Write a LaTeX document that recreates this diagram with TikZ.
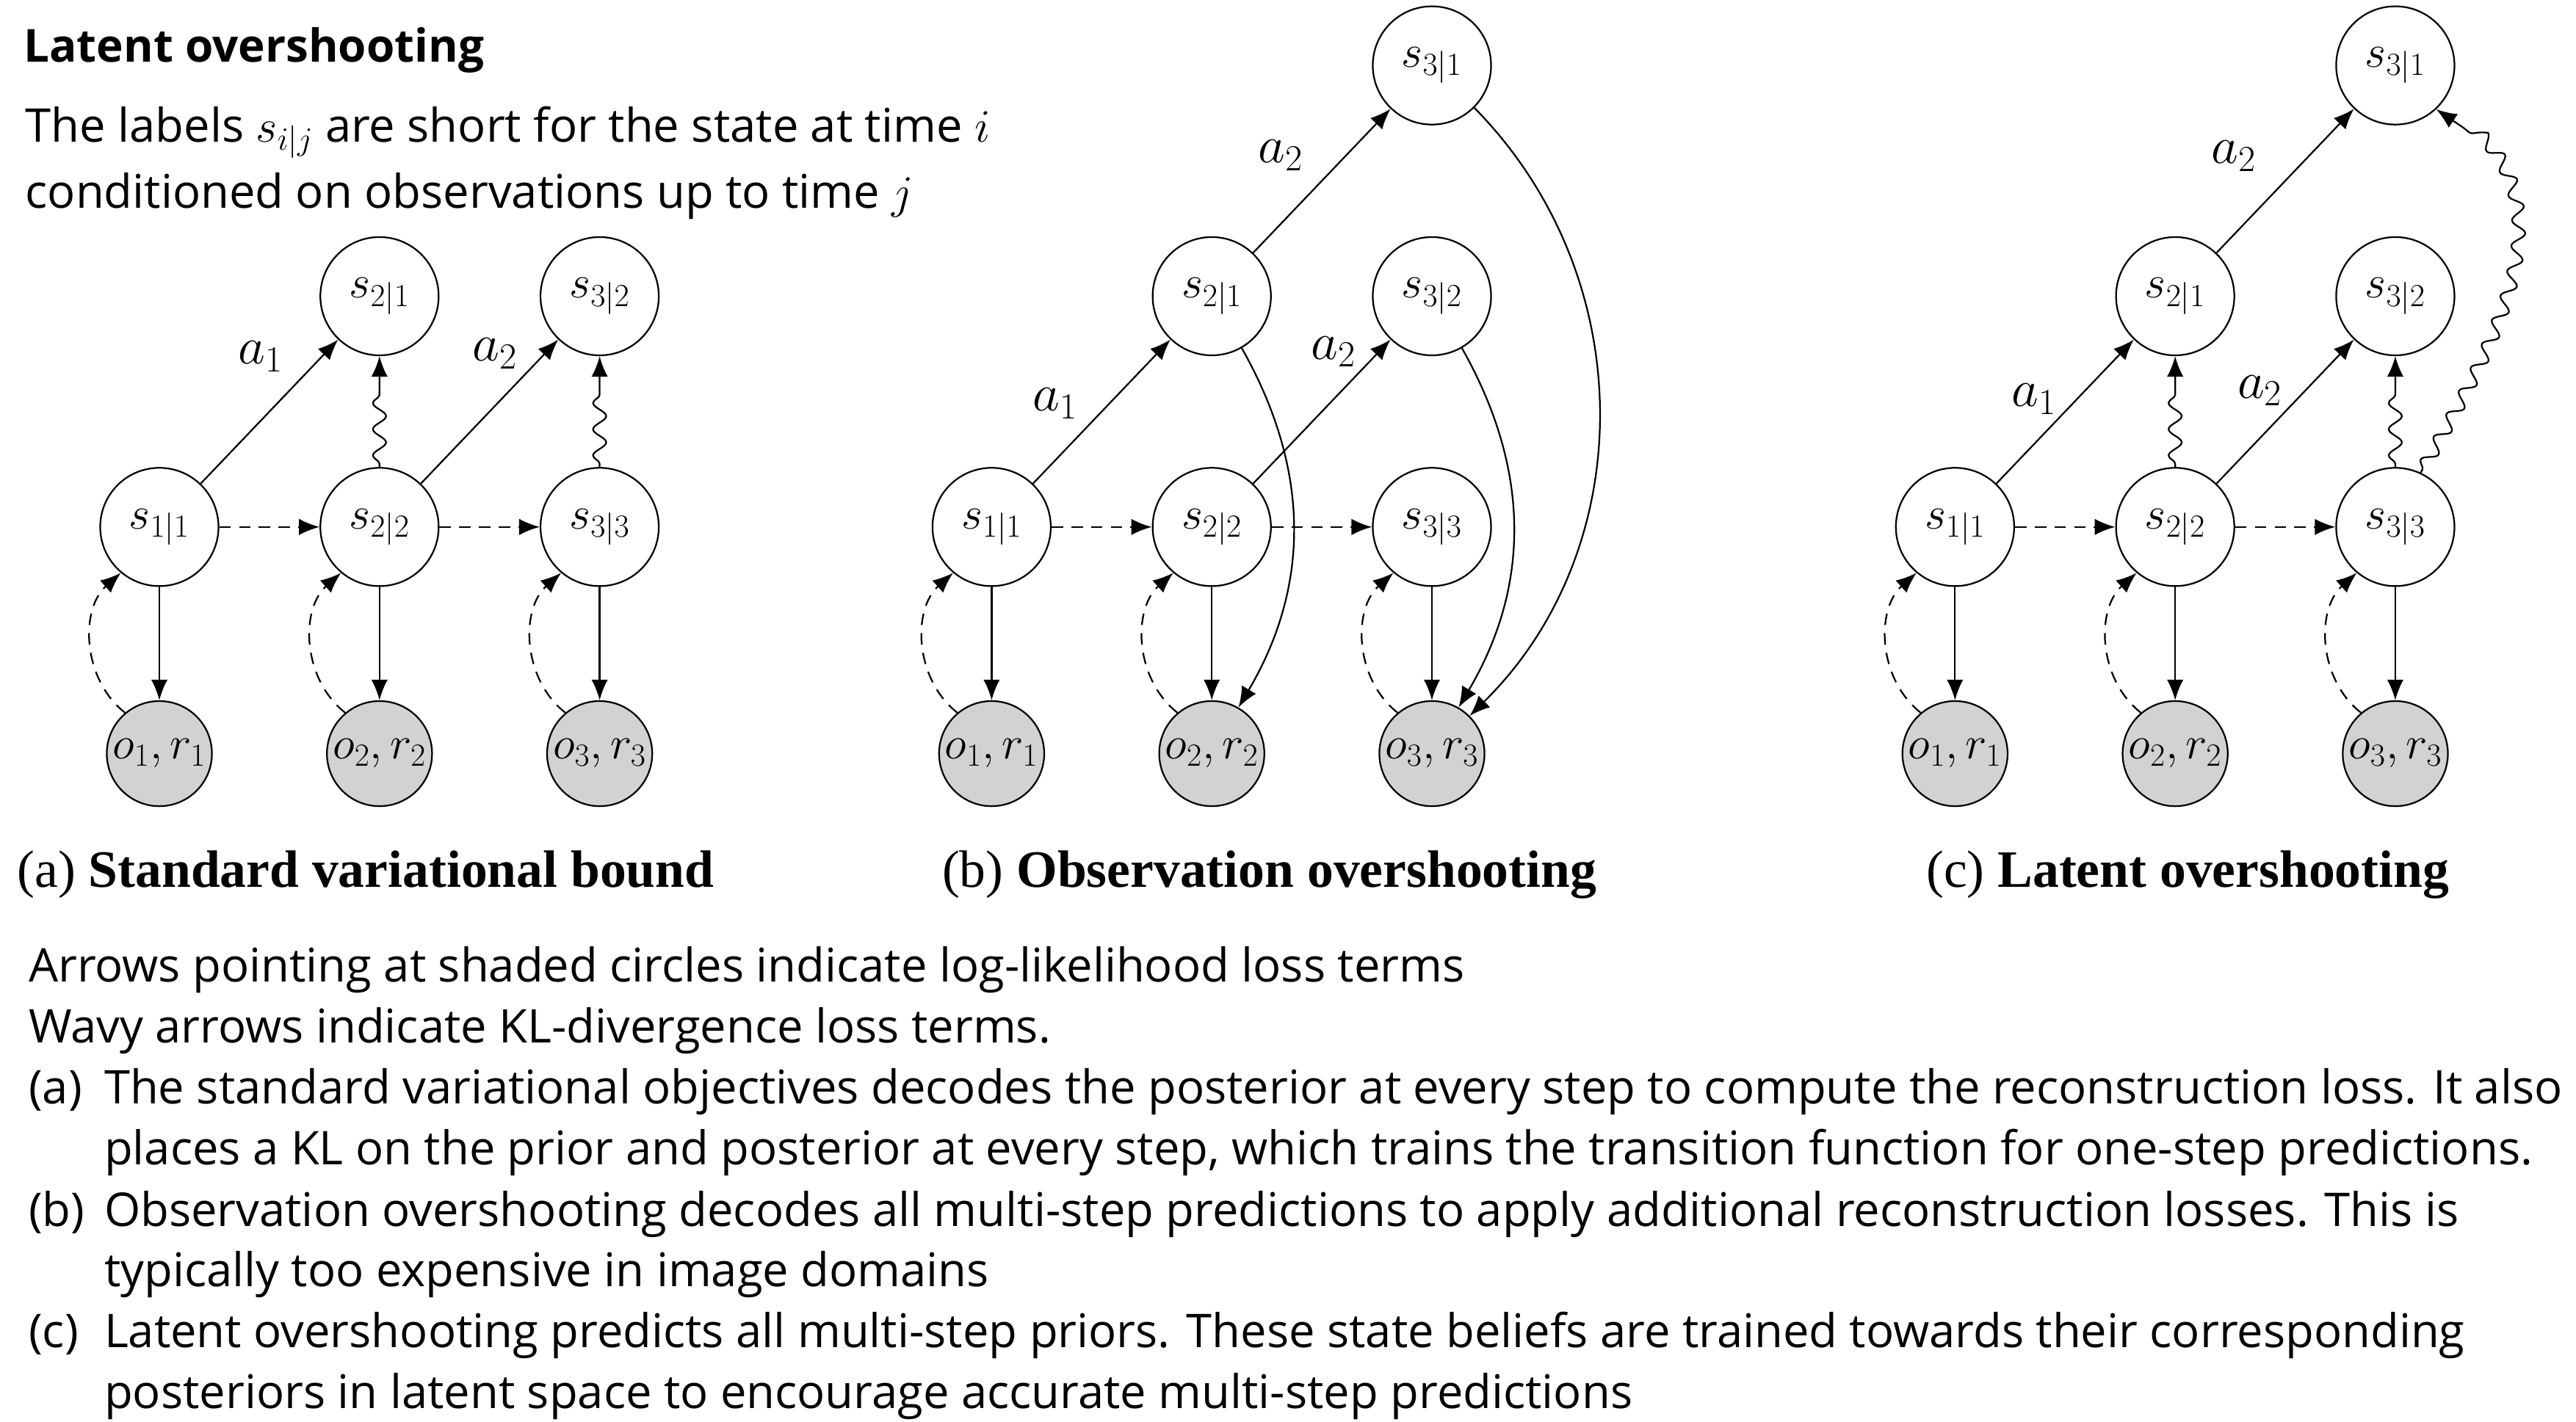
\RequirePackage{fix-cm}
\documentclass[tikz,border=0pt]{standalone}
\usepackage{fontspec}
\newfontfamily\uifont{Open Sans}
\newfontfamily\capfont{Liberation Serif}
\usepackage{tikz}
\usetikzlibrary{positioning}
\usetikzlibrary{arrows.meta,automata}
\usetikzlibrary{decorations.pathmorphing}

\tikzset{
  obs/.style={state,fill=gray!35,minimum size=64pt},
  kl/.style={decorate,decoration={snake,amplitude=4pt,segment length=16pt,
             pre length=2pt,post length=20pt}},
  inf/.style={dash pattern=on 7pt off 5pt},
  lbl/.style={font=\fontsize{32}{32}\selectfont,inner sep=0pt},
  body/.style={font=\uifont\fontsize{28.3}{34}\selectfont,anchor=base west,inner sep=0pt},
  captext/.style={font=\capfont\fontsize{32}{36}\selectfont,anchor=base west,inner sep=0pt},
}

\begin{document}
\begin{tikzpicture}[->,>={Latex[length=12.5pt,width=10pt]},x=1pt,y=1pt,
                    node distance=67.5pt and 61pt,line width=1pt,
                    every state/.style={draw,circle,minimum size=72pt,inner sep=0pt,
                                        font=\fontsize{28}{28}\selectfont}]
\useasboundingbox (0,0) rectangle (1568,865.35);

% (a) standard variational bound
\node[state] (s11a) at (97,544.5) {$s_{1|1}$};
\node[state,right=of s11a] (s22a) {$s_{2|2}$};
\node[state,right=of s22a] (s33a) {$s_{3|3}$};
\node[state,above=of s22a] (s21a) {$s_{2|1}$};
\node[state,above=of s33a] (s32a) {$s_{3|2}$};
\node[obs,below=69pt of s11a] (o1a) {$o_1,r_1$};
\node[obs,below=69pt of s22a] (o2a) {$o_2,r_2$};
\node[obs,below=69pt of s33a] (o3a) {$o_3,r_3$};
\path (s11a) edge node[lbl,pos=0.69,above left=10pt] {$a_1$} (s21a)
             edge[inf] (s22a)
             edge (o1a)
      (s22a) edge node[lbl,pos=0.75,above left=5pt] {$a_2$} (s32a)
             edge[inf] (s33a)
             edge (o2a)
             edge[kl] (s21a)
      (s33a) edge (o3a)
             edge[kl] (s32a)
      (o1a.130) edge[inf,bend left=50] (s11a.230)
      (o2a.130) edge[inf,bend left=50] (s22a.230)
      (o3a.130) edge[inf,bend left=50] (s33a.230);

% (b) observation overshooting
\node[state] (s11b) at (603.6,544.5) {$s_{1|1}$};
\node[state,right=of s11b] (s22b) {$s_{2|2}$};
\node[state,right=of s22b] (s33b) {$s_{3|3}$};
\node[state,above=of s22b] (s21b) {$s_{2|1}$};
\node[state,above=of s33b] (s32b) {$s_{3|2}$};
\node[state,above=of s32b] (s31b) {$s_{3|1}$};
\node[obs,below=69pt of s11b] (o1b) {$o_1,r_1$};
\node[obs,below=69pt of s22b] (o2b) {$o_2,r_2$};
\node[obs,below=69pt of s33b] (o3b) {$o_3,r_3$};
\path (s11b) edge node[lbl,pos=0.39,above left=7pt] {$a_1$} (s21b)
             edge[inf] (s22b)
             edge (o1b)
      (s22b) edge node[lbl,pos=0.78,above left=3pt] {$a_2$} (s32b)
             edge[inf] (s33b)
             edge (o2b)
      (s21b) edge node[lbl,pos=0.47,above left=12pt] {$a_2$} (s31b)
             edge[bend left=30] (o2b)
      (s33b) edge (o3b)
      (s32b) edge[bend left=30] (o3b)
      (s31b) edge[bend left=45] (o3b)
      (o1b.130) edge[inf,bend left=50] (s11b.230)
      (o2b.130) edge[inf,bend left=50] (s22b.230)
      (o3b.130) edge[inf,bend left=50] (s33b.230);

% (c) latent overshooting
\node[state] (s11c) at (1190,544.5) {$s_{1|1}$};
\node[state,right=of s11c] (s22c) {$s_{2|2}$};
\node[state,right=of s22c] (s33c) {$s_{3|3}$};
\node[state,above=of s22c] (s21c) {$s_{2|1}$};
\node[state,above=of s33c] (s32c) {$s_{3|2}$};
\node[state,above=of s32c] (s31c) {$s_{3|1}$};
\node[obs,below=69pt of s11c] (o1c) {$o_1,r_1$};
\node[obs,below=69pt of s22c] (o2c) {$o_2,r_2$};
\node[obs,below=69pt of s33c] (o3c) {$o_3,r_3$};
\path (s11c) edge node[lbl,pos=0.46,above left=2pt] {$a_1$} (s21c)
             edge[inf] (s22c)
             edge (o1c)
      (s22c) edge node[lbl,pos=0.51,above left=3pt] {$a_2$} (s32c)
             edge[inf] (s33c)
             edge (o2c)
             edge[kl] (s21c)
      (s21c) edge node[lbl,pos=0.43,above left=16pt] {$a_2$} (s31c)
      (s33c) edge (o3c)
             edge[kl] (s32c)
      (s33c.65) edge[kl,out=60,in=-30,looseness=1.15] (s31c.-47)
      (o1c.130) edge[inf,bend left=50] (s11c.230)
      (o2c.130) edge[inf,bend left=50] (s22c.230)
      (o3c.130) edge[inf,bend left=50] (s33c.230);

% captions
\node[captext] (capa) at (10,325) {(a) \textbf{Standard variational bound}};
\node[captext] (capb) at (573,325) {(b) \textbf{Observation overshooting}};
\node[captext] (capc) at (1172,325) {(c) \textbf{Latent overshooting}};

% text
\node[body,font=\uifont\fontsize{27.7}{34}\selectfont\bfseries] (title) at (14,827.35) {Latent overshooting};
\node[body] (intro1) at (15,778.95) {The labels $s_{i|j}$ are short for the state at time $i$};
\node[body] (intro2) at (15,738.65) {conditioned on observations up to time $j$};
\node[body] (note1) at (17,267.35) {Arrows pointing at shaded circles indicate log-likelihood loss terms};
\node[body] (note2) at (17,230.35) {Wavy arrows indicate KL-divergence loss terms.};
\node[body] (itema) at (17,193.35) {\makebox[46pt][l]{(a)}The standard variational objectives decodes the posterior at every step to compute the reconstruction loss. It also};
\node[body] (itema2) at (63,156.35) {places a KL on the prior and posterior at every step, which trains the transition function for one-step predictions.};
\node[body] (itemb) at (17,118.85) {\makebox[46pt][l]{(b)}Observation overshooting decodes all multi-step predictions to apply additional reconstruction losses. This is};
\node[body] (itemb2) at (63,81.85) {typically too expensive in image domains};
\node[body] (itemc) at (17,44.85) {\makebox[46pt][l]{(c)}Latent overshooting predicts all multi-step priors. These state beliefs are trained towards their corresponding};
\node[body] (itemc2) at (63,7.85) {posteriors in latent space to encourage accurate multi-step predictions};
\end{tikzpicture}
\end{document}
